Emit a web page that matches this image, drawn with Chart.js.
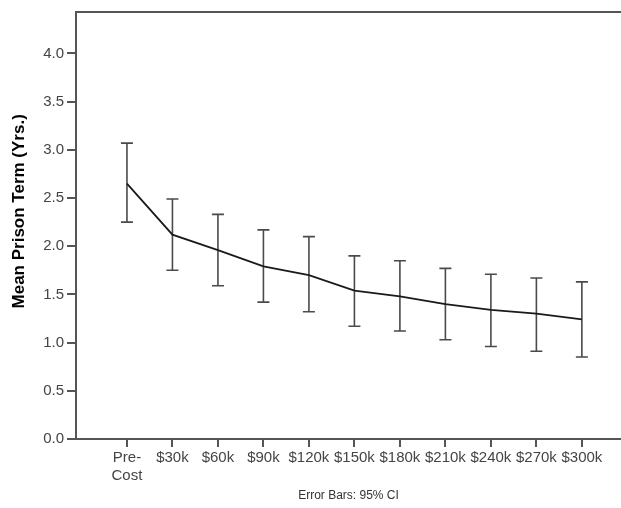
<!DOCTYPE html>
<html>
<head>
<meta charset="utf-8">
<script src="https://cdn.jsdelivr.net/npm/chart.js@4"></script>
<style>
    html, body { margin: 0; padding: 0; background: #fff; }
    #wrap { width: 621px; height: 508px; }
</style>
</head>
<body>
<div id="wrap"><canvas id="chart"></canvas></div>
<script>
// =========================
// DATA
// =========================

const categories = [
    ["Pre-", "Cost"], "$30k", "$60k", "$90k", "$120k", "$150k",
    "$180k", "$210k", "$240k", "$270k", "$300k"
];

const means = [2.65, 2.12, 1.96, 1.79, 1.70, 1.54, 1.48, 1.40, 1.34, 1.30, 1.24];
const ciLower = [2.25, 1.75, 1.59, 1.42, 1.32, 1.17, 1.12, 1.03, 0.96, 0.91, 0.85];
const ciUpper = [3.07, 2.49, 2.33, 2.17, 2.10, 1.90, 1.85, 1.77, 1.71, 1.67, 1.63];

const yTicks = [0, 0.5, 1.0, 1.5, 2.0, 2.5, 3.0, 3.5, 4.0];

// =========================
// ERROR BARS + TOP BORDER
// =========================

const errorBars = {
    id: "errorBars",
    beforeDatasetsDraw(chart) {
        const { ctx, scales: { x, y } } = chart;
        ctx.save();
        ctx.strokeStyle = "#4a4a4a";
        ctx.lineWidth = 1.6;
        means.forEach((m, i) => {
            const px = x.getPixelForValue(i);
            const top = y.getPixelForValue(ciUpper[i]);
            const bot = y.getPixelForValue(ciLower[i]);
            ctx.beginPath();
            ctx.moveTo(px, top);
            ctx.lineTo(px, bot);
            ctx.moveTo(px - 6, top);
            ctx.lineTo(px + 6, top);
            ctx.moveTo(px - 6, bot);
            ctx.lineTo(px + 6, bot);
            ctx.stroke();
        });
        ctx.restore();
    },
    afterDraw(chart) {
        const { ctx, chartArea } = chart;
        ctx.save();
        ctx.strokeStyle = "#555";
        ctx.lineWidth = 2;
        ctx.beginPath();
        ctx.moveTo(chartArea.left, chartArea.top);
        ctx.lineTo(chartArea.right, chartArea.top);
        ctx.stroke();
        ctx.restore();
    }
};

// =========================
// CHART
// =========================

const ctx = document.getElementById("chart").getContext("2d");

new Chart(ctx, {
    type: "line",
    data: {
        datasets: [{
            data: means.map((m, i) => ({ x: i, y: m })),
            borderColor: "#1a1a1a",
            borderWidth: 1.8,
            pointRadius: 0,
            tension: 0,
            fill: false
        }]
    },
    options: {
        responsive: true,
        maintainAspectRatio: false,
        animation: false,
        layout: {
            padding: { top: 7, right: 0, left: 0, bottom: 0 }
        },
        plugins: {
            legend: { display: false },
            tooltip: { enabled: false }
        },
        scales: {
            x: {
                type: "linear",
                min: -1.12,
                max: 10.86,
                afterBuildTicks: (scale) => {
                    scale.ticks = categories.map((c, i) => ({ value: i }));
                },
                afterFit: (scale) => { scale.height = 69; },
                ticks: {
                    autoSkip: false,
                    maxRotation: 0,
                    padding: 2,
                    color: "#444",
                    font: { family: "Liberation Sans", size: 15 },
                    callback: (v) => categories[v]
                },
                grid: {
                    drawOnChartArea: false,
                    drawTicks: true,
                    tickLength: 8,
                    color: "#555",
                    lineWidth: 2
                },
                border: { display: true, color: "#555", width: 2 },
                title: {
                    display: true,
                    text: "Error Bars: 95% CI",
                    color: "#333",
                    font: { family: "Liberation Sans", size: 12 },
                    padding: { top: 4, bottom: 5 }
                }
            },
            y: {
                min: 0,
                max: 4.43,
                afterBuildTicks: (scale) => {
                    scale.ticks = yTicks.map(v => ({ value: v }));
                },
                afterFit: (scale) => { scale.width = 76; },
                ticks: {
                    padding: 3,
                    color: "#444",
                    font: { family: "Liberation Sans", size: 15 },
                    callback: (v) => v.toFixed(1)
                },
                grid: {
                    drawOnChartArea: false,
                    drawTicks: true,
                    tickLength: 9,
                    color: "#555",
                    lineWidth: 2
                },
                border: { display: true, color: "#555", width: 2 },
                title: {
                    display: true,
                    text: "      Mean Prison Term (Yrs.)",
                    color: "#000",
                    font: { family: "Liberation Sans", size: 17, weight: "bold" },
                    padding: { top: 9, bottom: 0 }
                }
            }
        }
    },
    plugins: [errorBars]
});
</script>
</body>
</html>
